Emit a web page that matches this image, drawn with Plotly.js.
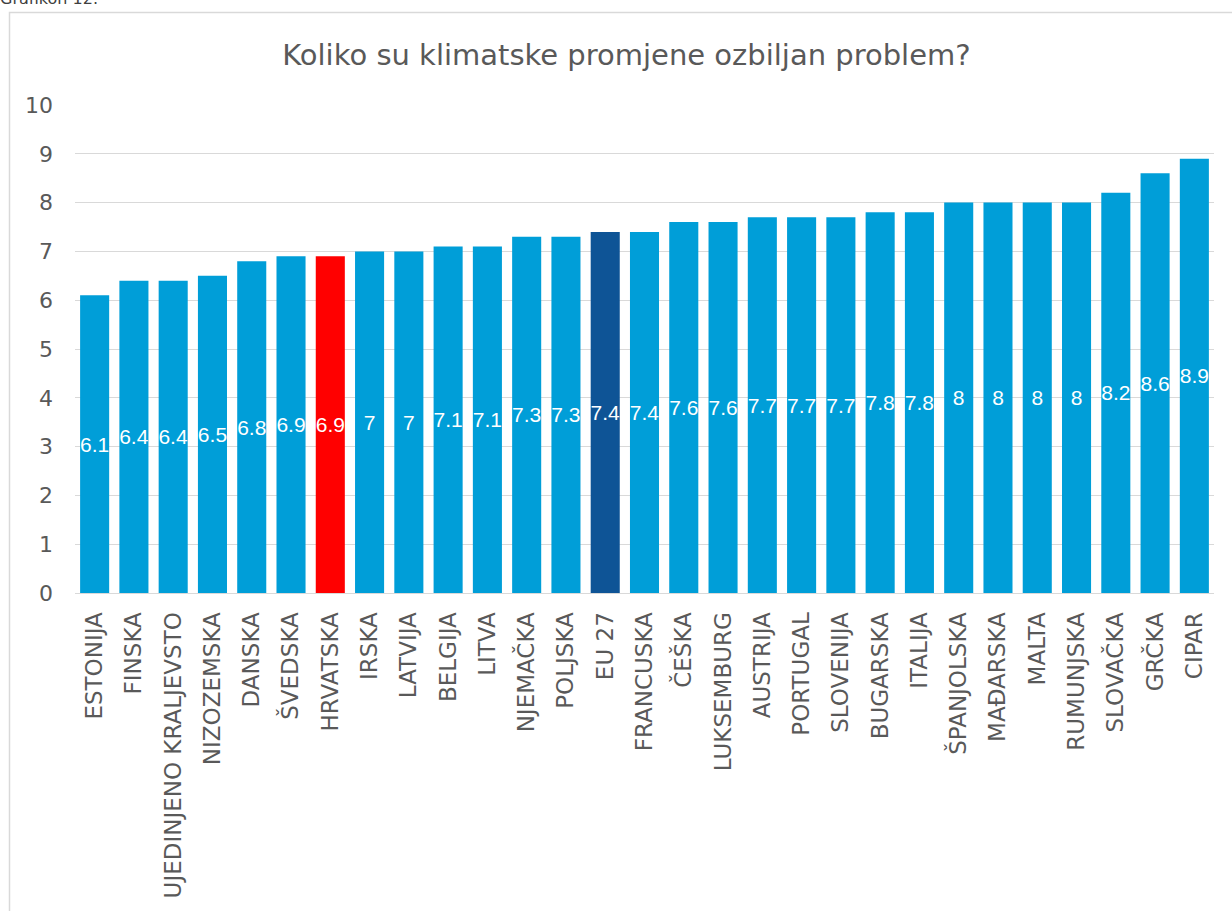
<!DOCTYPE html>
<html>
<head>
<meta charset="utf-8">
<script src="https://cdn.plot.ly/plotly-3.0.1.min.js"></script>
<style>
html,body{margin:0;padding:0;background:#fff;}
#chart{width:1232px;height:911px;}
</style>
</head>
<body>
<div id="chart"></div>
<script>
const countries = ["ESTONIJA","FINSKA","UJEDINJENO KRALJEVSTO","NIZOZEMSKA","DANSKA","ŠVEDSKA","HRVATSKA","IRSKA","LATVIJA","BELGIJA","LITVA","NJEMAČKA","POLJSKA","EU 27","FRANCUSKA","ČEŠKA","LUKSEMBURG","AUSTRIJA","PORTUGAL","SLOVENIJA","BUGARSKA","ITALIJA","ŠPANJOLSKA","MAĐARSKA","MALTA","RUMUNJSKA","SLOVAČKA","GRČKA","CIPAR"];
const scores = [6.1,6.4,6.4,6.5,6.8,6.9,6.9,7,7,7.1,7.1,7.3,7.3,7.4,7.4,7.6,7.6,7.7,7.7,7.7,7.8,7.8,8,8,8,8,8.2,8.6,8.9];
const yTicks = [0,1,2,3,4,5,6,7,8,9,10];
const chartTitle = "Koliko su klimatske promjene ozbiljan problem?";
const caption = "Grafikon 12.";

const colors = countries.map(c => c === "HRVATSKA" ? "#FF0000" : (c === "EU 27" ? "#0E5496" : "#009ED8"));
const FONT = "DejaVu Sans";

const L = 75, R = 18, T = 105, B = 318;
const W = 1232 - L - R, H = 911 - T - B;
const px = x => (x - L) / W;
const py = y => 1 - (y - T) / H;

Plotly.newPlot("chart", [{
  type: "bar",
  x: countries,
  y: scores,
  marker: {color: colors, line: {width: 0}},
  text: scores.map(String),
  textposition: "inside",
  insidetextanchor: "middle",
  textangle: 0,
  constraintext: "none",
  textfont: {family: "Liberation Sans", size: 21, color: "#ffffff"},
  hoverinfo: "x+y"
}], {
  width: 1232, height: 911,
  margin: {l: L, r: R, t: T, b: B, pad: 0},
  paper_bgcolor: "#ffffff",
  plot_bgcolor: "#ffffff",
  bargap: 0.26,
  showlegend: false,
  font: {family: FONT, color: "#595959"},
  title: {text: chartTitle, font: {family: FONT, size: 29, color: "#595959"}, x: 0.5085, xanchor: "center", y: 1 - 55/911, yanchor: "middle"},
  xaxis: {
    type: "category",
    tickangle: -90,
    tickfont: {family: FONT, size: 23, color: "#595959"},
    showgrid: false,
    showline: true, linecolor: "#d9d9d9", linewidth: 1,
    ticks: "", ticklabelstandoff: 9
  },
  yaxis: {
    range: [0, 10],
    tickvals: yTicks,
    tickfont: {family: FONT, size: 22, color: "#595959"},
    showgrid: true, gridcolor: "#d9d9d9", gridwidth: 1,
    zeroline: false, showline: false, ticks: "",
    ticklabelstandoff: 21
  },
  shapes: [{
    type: "rect", xref: "paper", yref: "paper",
    x0: px(9.5), x1: px(1240), y0: py(12.5), y1: py(930),
    line: {color: "#d9d9d9", width: 1.5}, fillcolor: "rgba(0,0,0,0)", layer: "below"
  }],
  annotations: [{
    text: caption, xref: "paper", yref: "paper",
    x: px(-2), xanchor: "left", y: py(10), yanchor: "bottom",
    showarrow: false, font: {family: FONT, size: 16, color: "#404040"}
  }]
}, {displayModeBar: false, staticPlot: true});
</script>
</body>
</html>
